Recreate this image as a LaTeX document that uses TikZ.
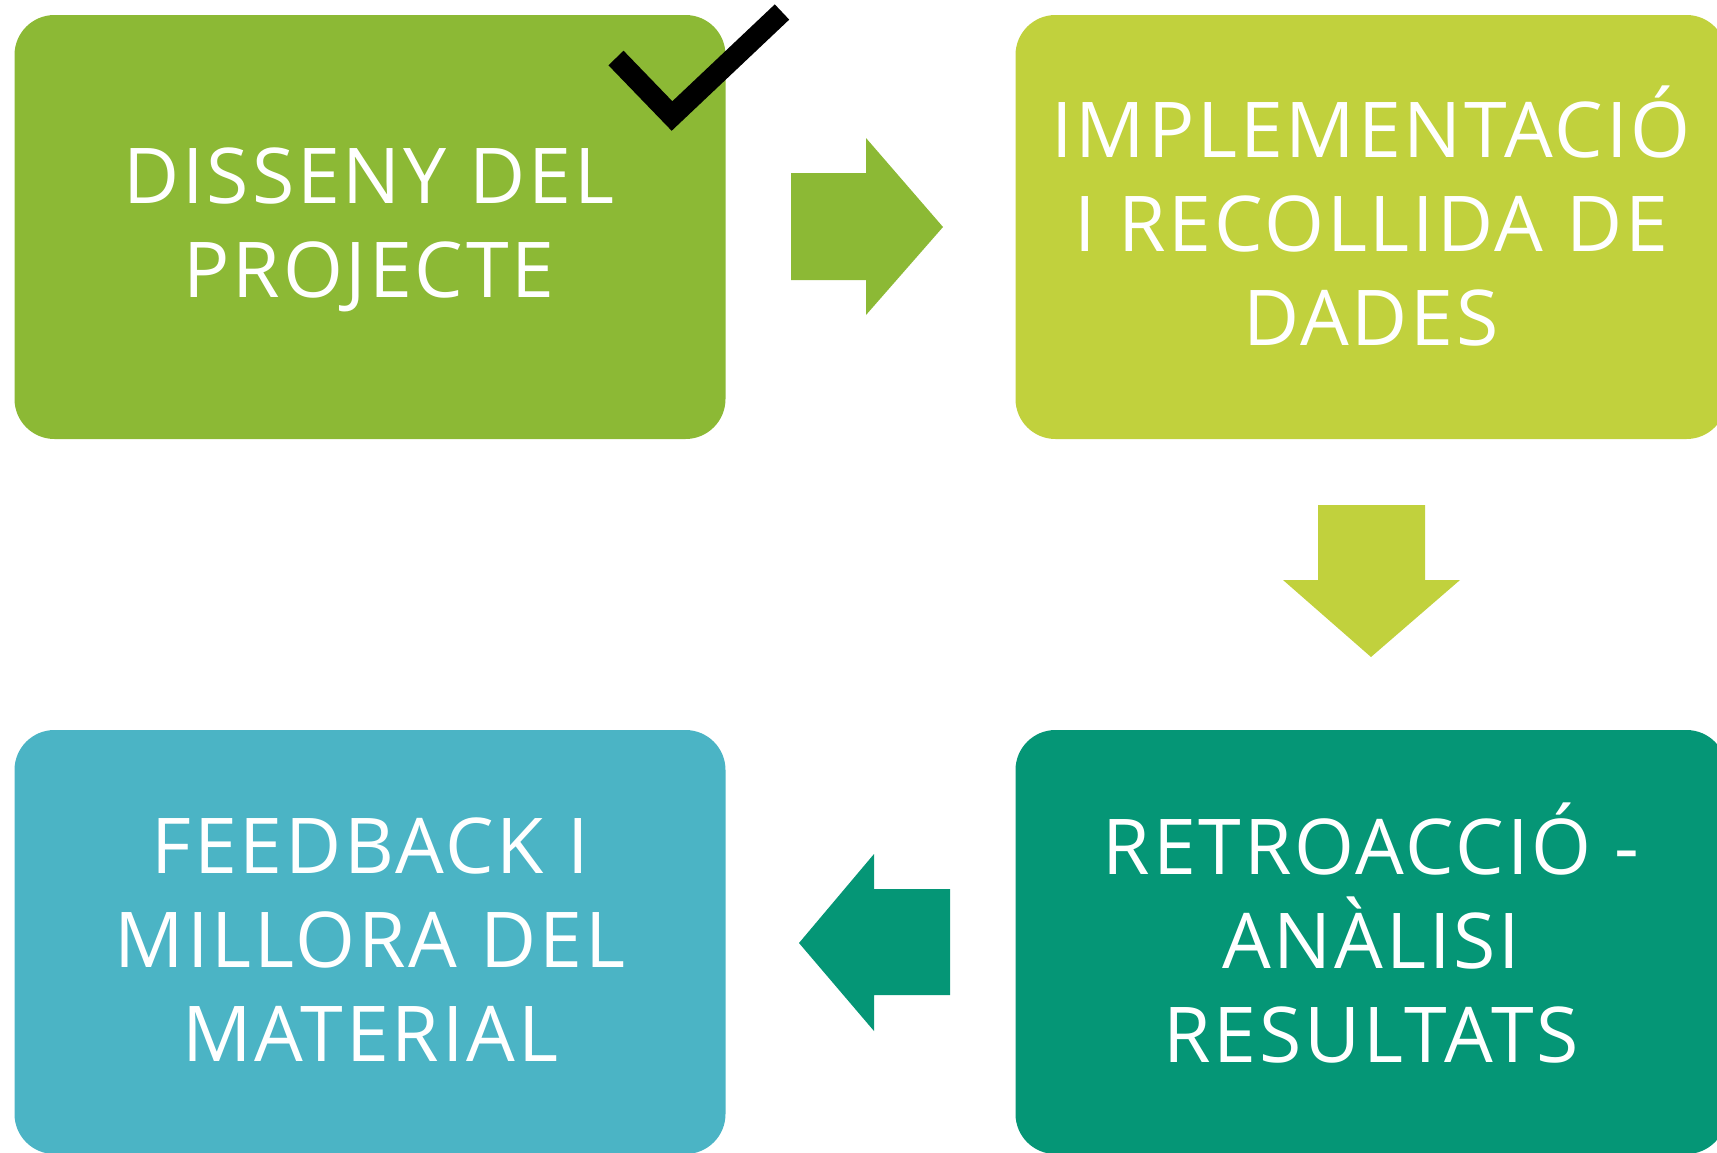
\documentclass[tikz,border=0pt]{standalone}
\usepackage{fontspec}
\setmainfont{Open Sans}[LetterSpace=3.7]
\definecolor{cA}{HTML}{8CB935}
\definecolor{cB}{HTML}{C1D13D}
\definecolor{cC}{HTML}{4BB4C5}
\definecolor{cD}{HTML}{059676}
\begin{document}
\begin{tikzpicture}[x=1pt,y=-1pt,
  box/.style={rounded corners=40pt, minimum width=711pt, minimum height=424pt, inner sep=0pt},
  lbl/.style={inner sep=0pt, text=white, align=center, font=\fontsize{77}{94}\selectfont}]
\useasboundingbox (0,0) rectangle (1717,1152);
\clip (0,0) rectangle (1717,1152);
\node[box, fill=cA] (b1) at (370,227) {};
\node[box, fill=cB] (b2) at (1371,227) {};
\node[box, fill=cD] (b4) at (1371,942) {};
\node[box, fill=cC] (b3) at (370,942) {};
\node[lbl] (t1) at ([xshift=-1pt,yshift=-3.3pt]b1.center) {DISSENY DEL\\PROJECTE};
\node[lbl] (t2) at ([yshift=11pt]b2.center) {IMPLEMENTACIÓ\\I RECOLLIDA DE\\DADES};
\node[lbl] (t4) at ([yshift=8.8pt]b4.center) {RETROACCIÓ -\\ANÀLISI\\RESULTATS};
\node[lbl] (t3) at ([yshift=2.2pt]b3.center) {FEEDBACK I\\MILLORA DEL\\MATERIAL};
% right arrow
\fill[cA] (791,173) -- (866,173) -- (866,138) -- (943,227) -- (866,315) -- (866,280) -- (791,280) -- cycle;
% down arrow
\fill[cB] (1318,505) -- (1425,505) -- (1425,580) -- (1460,580) -- (1371,657) -- (1283,580) -- (1318,580) -- cycle;
% left arrow
\fill[cD] (950,889) -- (874,889) -- (874,854) -- (799,943) -- (874,1031) -- (874,995) -- (950,995) -- cycle;
% checkmark
\draw[line width=21pt, miter limit=10] (616,58) -- (672,116) -- (782,12);
\end{tikzpicture}
\end{document}
